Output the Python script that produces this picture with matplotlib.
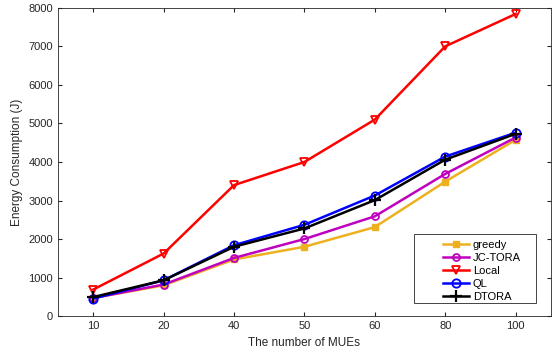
import numpy as np
import matplotlib
matplotlib.use("Agg")
import matplotlib.pyplot as plt
from matplotlib.patches import Rectangle

plt.rcParams['font.family'] = ['Liberation Sans', 'DejaVu Sans']

mues = ['10', '20', '40', '50', '60', '80', '100']
greedy = [470, 800, 1470, 1800, 2310, 3490, 4575]
jc_tora = [470, 820, 1510, 2000, 2590, 3690, 4635]
local = [690, 1625, 3400, 4000, 5100, 7000, 7840]
ql = [455, 930, 1840, 2370, 3130, 4140, 4760]
dtora = [495, 930, 1800, 2275, 3010, 4060, 4730]

x = np.arange(1, len(mues) + 1)

fig = plt.figure(figsize=(5.53, 3.56), dpi=100)
ax = fig.add_axes([0.105, 0.112, 0.891, 0.866])

ax.plot(x, greedy, color='#EDB120', lw=1.8, marker='s', ms=4, mfc='#EDB120', label='greedy')
ax.plot(x, jc_tora, color='#BF00BF', lw=1.8, marker='o', ms=5, mfc='none', mew=1.3, label='JC-TORA')
ax.plot(x, local, color='#FF0000', lw=1.8, marker='v', ms=6, mfc='none', mew=1.3, label='Local')
ax.plot(x, ql, color='#0000FF', lw=1.8, marker='o', ms=6, mfc='none', mew=1.3, label='QL')
ax.plot(x, dtora, color='black', lw=1.8, marker='+', ms=8, mew=1.6, label='DTORA')

ax.set_xlim(0.5, 7.5)
ax.set_ylim(0, 8000)
ax.set_xticks(x)
ax.set_xticklabels(mues)
ax.set_yticks(np.arange(0, 8001, 1000))
ax.tick_params(direction='in', top=True, right=True, labelsize=8, colors='#262626', length=3)
for s in ax.spines.values():
    s.set_color('#262626')
    s.set_linewidth(0.6)

ax.set_xlabel('The number of MUEs', fontsize=8.5, color='#262626')
ax.set_ylabel('Energy Consumption (J)', fontsize=8.5, color='#262626')

# MATLAB-style legend box: wide frame, entries offset to the right
fig.patches.append(Rectangle((414 / 553, 1 - 303 / 356), 122 / 553, 69 / 356,
                             transform=fig.transFigure, fill=True, facecolor='white',
                             edgecolor='#262626', lw=0.6, zorder=5))
leg = fig.legend(*ax.get_legend_handles_labels(), loc='upper left',
                 bbox_to_anchor=(436 / 553, 1 - 233 / 356), fontsize=8, frameon=False,
                 handlelength=2.4, labelspacing=0.28, borderpad=0.1, handletextpad=0.3)
leg.set_zorder(6)

fig.savefig('out.png', dpi=100)
